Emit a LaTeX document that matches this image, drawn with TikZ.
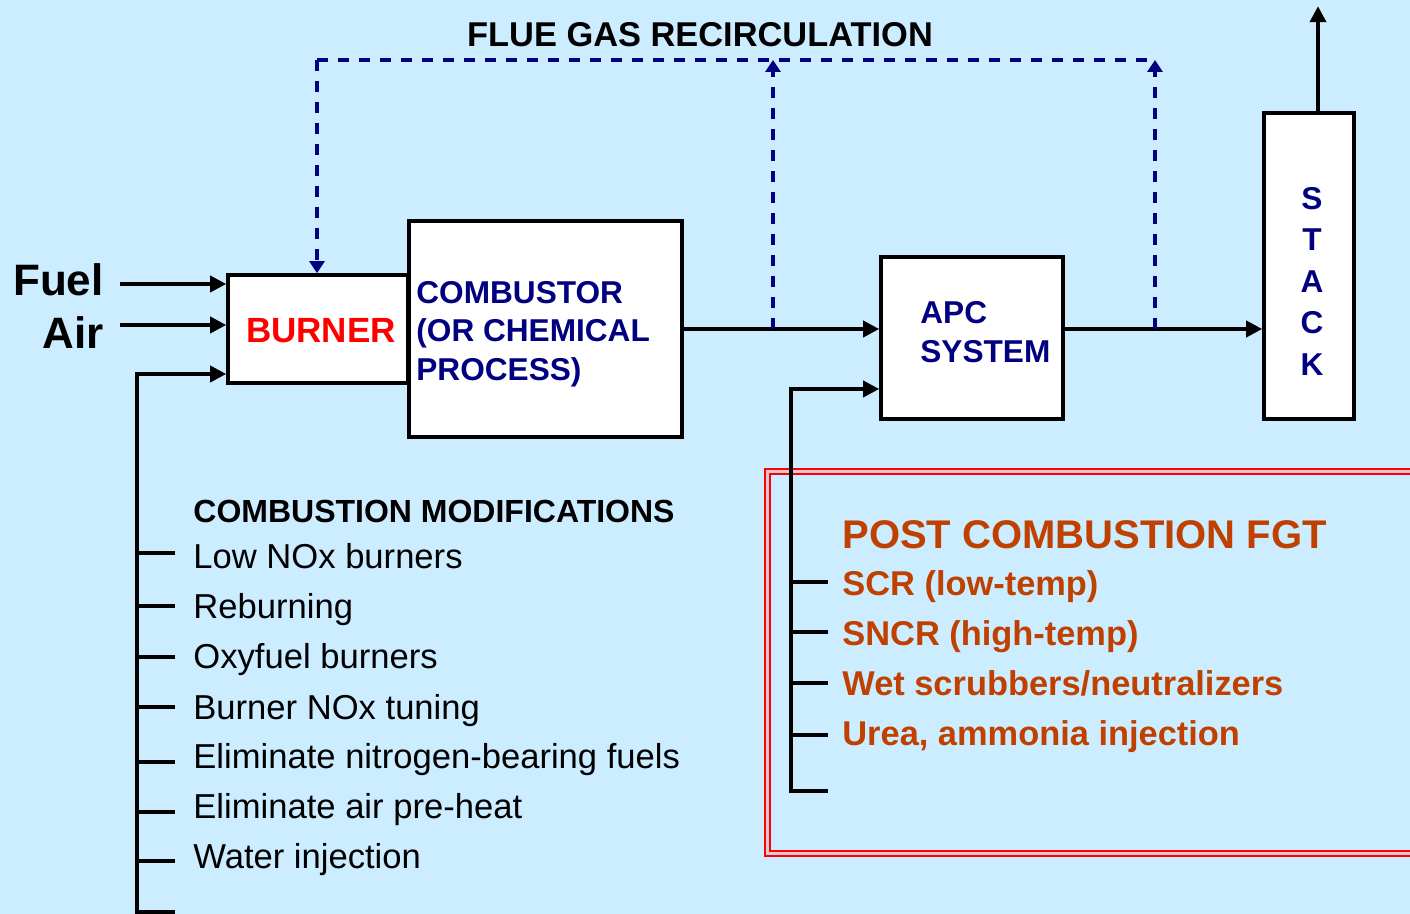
\documentclass[tikz,border=0pt]{standalone}
\usepackage{fontspec}
\setmainfont{Liberation Sans}
\usetikzlibrary{arrows.meta, positioning, calc}
\definecolor{skybg}{RGB}{204,236,255}
\definecolor{apcnavy}{RGB}{0,0,128}
\definecolor{fgtorange}{RGB}{192,64,0}
\definecolor{gapgrey}{RGB}{222,200,212}
\newcommand{\fs}[2]{\fontsize{#1}{#2}\selectfont}

\tikzset{
  unitbox/.style={draw=black, line width=1.8pt, fill=white, inner sep=0pt},
  flow/.style={line width=1.8pt, -{Triangle[length=8pt,width=8pt]}},
  tick/.style={line width=1.8pt},
  recirc/.style={draw=apcnavy, line width=1.6pt, dash pattern=on 5.5pt off 5pt},
  recircarr/.style={recirc, -{Triangle[length=6pt,width=7.5pt, fill=apcnavy]}},
  lbl/.style={inner sep=0pt, anchor=base west},
}

\begin{document}
\begin{tikzpicture}[x=0.5pt, y=-0.5pt]
  \clip (0,0) rectangle (1410,914);
  \fill[skybg] (0,0) rectangle (1410,914);

  % process boxes
  \node[unitbox, minimum width=90pt, minimum height=54pt] (burner) at (318,329) {};
  \node[unitbox, minimum width=136.5pt, minimum height=108pt] (comb) at (545.5,329) {};
  \node[unitbox, minimum width=91pt, minimum height=81pt] (apc) at (972,338) {};
  \node[unitbox, minimum width=45pt, minimum height=153pt] (stack) at (1309,266) {};

  % box texts
  \node[inner sep=0pt, anchor=base, text=red, font=\fs{17.5}{20}\bfseries] (burnertxt) at (321,343) {BURNER};
  \node[lbl, align=left, anchor=north west, text=apcnavy, font=\fs{15.8}{19.25}\bfseries] (combtxt) at (416,281)
    {COMBUSTOR\\(OR CHEMICAL\\PROCESS)};
  \node[lbl, align=left, anchor=north west, text=apcnavy, font=\fs{15.8}{19.5}\bfseries] (apctxt) at (920,301)
    {APC\\SYSTEM};
  \node[inner sep=0pt, align=center, text=apcnavy, font=\fs{15.8}{20.75}\bfseries] (stacktxt) at (1312,281)
    {S\\T\\A\\C\\K};

  % inputs
  \node[inner sep=0pt, anchor=base east] (fuel) at (104,296) {\fs{22}{26}\bfseries Fuel};
  \node[inner sep=0pt, anchor=base east] (air) at (104,349) {\fs{22}{26}\bfseries Air};
  \coordinate (fuelin) at (120,284);
  \coordinate (airin) at (120,325);
  \draw[flow] (fuelin) -- (fuelin -| burner.west);
  \draw[flow] (airin) -- (airin -| burner.west);

  % main gas path
  \coordinate (tap1) at (773,329);
  \coordinate (tap2) at (1155,329);
  \draw[flow] (comb.east) -- (comb.east -| apc.west);
  \draw[flow] (tap2 -| apc.east) -- (tap2 -| stack.west);
  \draw[flow] ([xshift=4.5pt]stack.north) -- ++(0,-105);

  % flue gas recirculation
  \coordinate (top0) at (317,60);
  \coordinate (top1) at (773,60);
  \coordinate (top2) at (1155,60);
  \node[inner sep=0pt, anchor=base] (fgr) at (700,47) {\fs{17.2}{20}\bfseries FLUE GAS RECIRCULATION};
  \draw[recirc] (top0) -- (top2);
  \draw[recircarr] (top0) -- (top0 |- burner.north);
  \draw[recircarr] (tap1) -- (top1);
  \draw[recircarr] (tap2) -- (top2);

  % post combustion frame
  \draw[draw=red, line width=1pt, double=gapgrey, double distance=1.5pt] (767,472) rectangle (1440,853);

  % combustion modifications
  \node[lbl] (modhead) at (193,523) {\fs{16}{18}\bfseries COMBUSTION MODIFICATIONS};
  \foreach \txt [count=\i from 0] in {Low NOx burners, Reburning, Oxyfuel burners,
      Burner NOx tuning, Eliminate nitrogen-bearing fuels, Eliminate air pre-heat, Water injection}
    \node[lbl] (mod\i) at (193,569+50*\i) {\fs{17.3}{20}\txt};
  \coordinate (busl) at (137,374);
  \draw[flow] (175,912) -- (137,912) -- (137,920) -- (busl) -- (busl -| burner.west);
  \foreach \y in {553,606,657,707,762,812,861}
    \draw[tick] (137,\y) -- ++(38,0);

  % post combustion FGT
  \node[lbl, text=fgtorange] (fgthead) at (842,549) {\fs{20}{22}\bfseries POST COMBUSTION FGT};
  \foreach \txt [count=\i from 0] in {SCR (low-temp), SNCR (high-temp),
      Wet scrubbers/neutralizers, {Urea, ammonia injection}}
    \node[lbl, text=fgtorange] (fgt\i) at (842,596+50*\i) {\fs{17.2}{20}\bfseries\txt};
  \coordinate (busr) at (791,389);
  \draw[flow] (828,791) -- (791,791) -- (busr) -- (busr -| apc.west);
  \foreach \y in {582,632,683,735}
    \draw[tick] (791,\y) -- ++(37,0);
\end{tikzpicture}
\end{document}
